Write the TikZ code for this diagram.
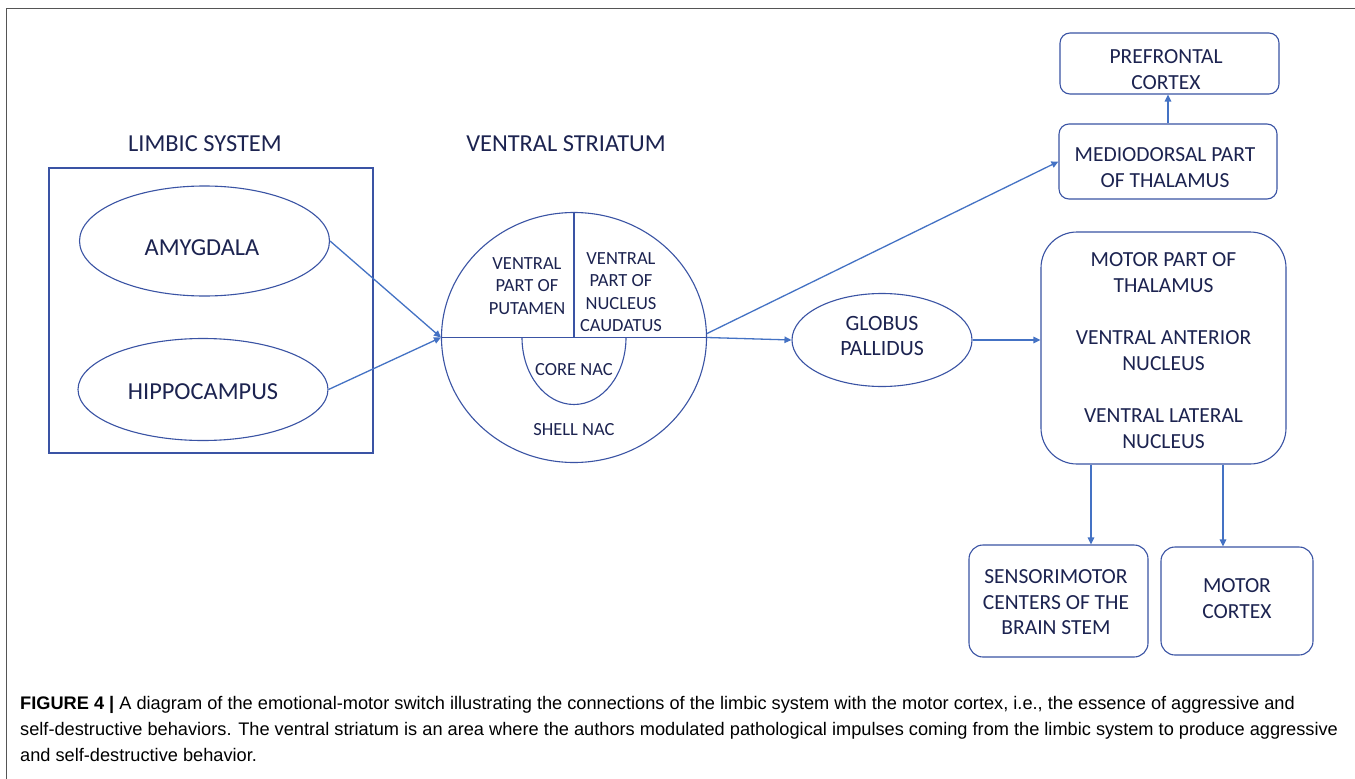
\documentclass[tikz,border=0pt]{standalone}
\usepackage{fontspec}
\setmainfont{Carlito}
\newfontfamily\capfont{Liberation Sans}
\usetikzlibrary{shapes.geometric,arrows.meta}
\definecolor{shapeblue}{HTML}{3A53A4}
\definecolor{arrowblue}{HTML}{4472C4}
\definecolor{txtnavy}{HTML}{1C2350}
\definecolor{framegray}{HTML}{555555}
\begin{document}
\begin{tikzpicture}[x=1pt,y=-1pt,
  shp/.style={draw=shapeblue, line width=1.1pt, text=txtnavy},
  ell/.style={shp, ellipse, inner sep=0pt, align=center},
  rbox/.style={shp, rounded corners=10pt, inner sep=0pt},
  arr/.style={draw=arrowblue, line width=1.3pt, -{Triangle[length=7pt,width=6.5pt]}},
  lab/.style={text=txtnavy, align=center, inner sep=0pt},
  big/.style={font=\fontsize{24.4}{26}\selectfont},
  mid/.style={font=\fontsize{21.5}{25.5}\selectfont},
  small/.style={font=\fontsize{18.5}{22.5}\selectfont}]
\useasboundingbox (0,0) rectangle (1355,779);
\fill[white] (0,0) rectangle (1355,779);
\draw[framegray, line width=1pt] (6.5,779) -- (6.5,8) -- (1355,8);

% titles
\node[lab, big] (limbT) at (205,144) {LIMBIC SYSTEM};
\node[lab, big] (vsT) at (566,144) {VENTRAL STRIATUM};

% limbic system
\node[shp, minimum width=324pt, minimum height=285pt, inner sep=0pt] (limb) at (211,310.5) {};
\node[ell, minimum width=250pt, minimum height=110pt] (amy) at (204.5,241) {};
\node[lab, big] (amyT) at (202,248) {AMYGDALA};
\node[ell, minimum width=250pt, minimum height=102pt] (hip) at (203,389.5) {};
\node[lab, big] (hipT) at (203,392) {HIPPOCAMPUS};

% ventral striatum
\node[ell, minimum width=265pt, minimum height=250pt] (vs) at (574,337.5) {};
\draw[shapeblue, line width=1.1pt] (vs.west) -- (vs.east);
\draw[shapeblue, line width=1.1pt] (vs.north) -- (vs.center);
\draw[shapeblue, line width=1.1pt] ([xshift=-52pt]vs.center) arc[start angle=180, end angle=0, x radius=52, y radius=67];
\node[lab, small] (put) at (527,286) {VENTRAL\\PART OF\\PUTAMEN};
\node[lab, small] (cau) at (621,292) {VENTRAL\\PART OF\\NUCLEUS\\CAUDATUS};
\node[lab, small] (core) at (574,369.5) {CORE NAC};
\node[lab, small] (shell) at (574,429.5) {SHELL NAC};

% globus pallidus
\node[ell, minimum width=180pt, minimum height=93pt] (gp) at (882,340) {};
\node[lab, font=\fontsize{21.8}{25.5}\selectfont] (gpT) at (882,336) {GLOBUS\\PALLIDUS};

% right boxes
\node[rbox, minimum width=219pt, minimum height=61pt] (pf) at (1169.5,63.5) {};
\node[lab, mid] (pfT) at (1166,69.5) {PREFRONTAL\\CORTEX};
\node[rbox, minimum width=218pt, minimum height=75pt] (md) at (1168,161.5) {};
\node[lab, mid] (mdT) at (1165,167.5) {MEDIODORSAL PART\\OF THALAMUS};
\node[rbox, rounded corners=36pt, minimum width=245pt, minimum height=232pt] (mt) at (1163.5,348) {};
\node[lab, mid] (mtT) at (1163.5,350.5)
  {MOTOR PART OF\\THALAMUS\\[27pt]VENTRAL ANTERIOR\\NUCLEUS\\[27pt]VENTRAL LATERAL\\NUCLEUS};
\node[rbox, rounded corners=14pt, minimum width=179pt, minimum height=112pt] (sm) at (1058.5,601) {};
\node[lab, mid] (smT) at (1056,602.5) {SENSORIMOTOR\\CENTERS OF THE\\BRAIN STEM};
\node[rbox, rounded corners=14pt, minimum width=152pt, minimum height=108pt] (mc) at (1237,601) {};
\node[lab, mid] (mcT) at (1237,598.5) {MOTOR\\CORTEX};

% connectors
\draw[arr] (amy.east) -- (vs.west);
\draw[arr] (hip.east) -- (vs.west);
\draw[arr] (vs.east) -- (gp.west);
\draw[arr] ([yshift=4pt]vs.east) -- (md.west);
\draw[arr] (md.north) -- (md.north |- pf.south);
\draw[arr] (gp.east) -- (gp.east -| mt.west);
\draw[arr] ([xshift=-72.5pt]mt.south) -- ([xshift=-72.5pt]mt.south |- sm.north);
\draw[arr] ([xshift=59.5pt]mt.south) -- ([xshift=59.5pt]mt.south |- mc.north);

% caption
\node[anchor=north west, inner sep=0pt, align=left, text=black,
  font=\capfont\fontsize{18.2}{26}\selectfont] (cap) at (20,696)
  {\textbf{FIGURE 4 |} A diagram of the emotional-motor switch illustrating the connections of the limbic system with the motor cortex, i.e., the essence of aggressive and\\
  self-destructive behaviors. The ventral striatum is an area where the authors modulated pathological impulses coming from the limbic system to produce aggressive\\
  and self-destructive behavior.};
\end{tikzpicture}
\end{document}
